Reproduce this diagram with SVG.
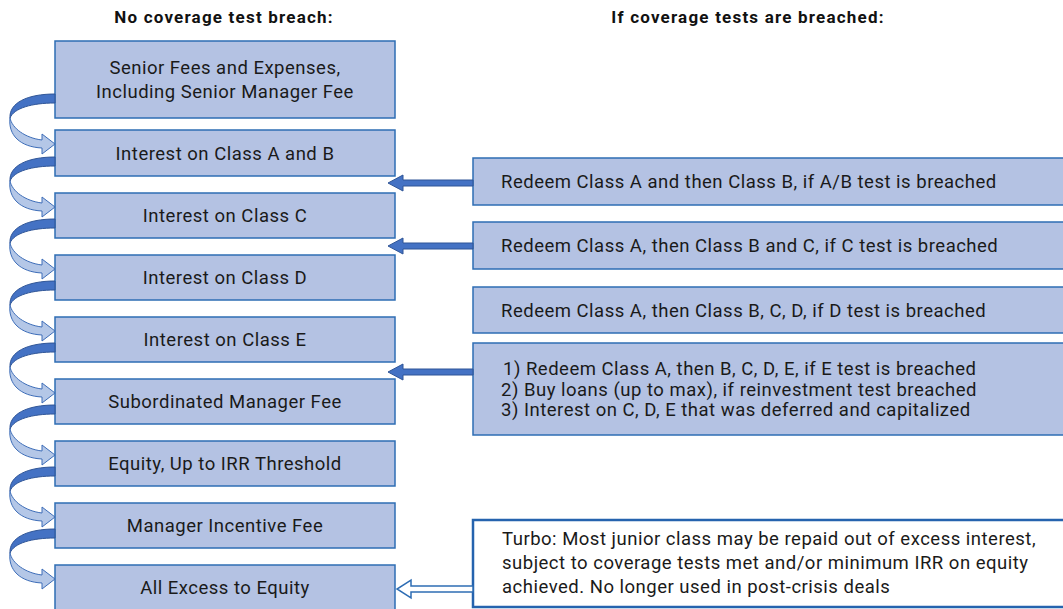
<svg xmlns="http://www.w3.org/2000/svg" width="1063" height="609" viewBox="0 0 1063 609">
<style>
.box{fill:#B4C2E3;stroke:#2E6DB4;stroke-width:1.5}
.turbo{fill:#fff;stroke:#2563AE;stroke-width:2.5}
.t{font-family:Roboto,"Liberation Sans",sans-serif;font-size:18.5px;letter-spacing:0.5px;fill:#1a1a1a}
.c{text-anchor:middle}
.h{font-family:Roboto,"Liberation Sans",sans-serif;font-size:17px;letter-spacing:1.2px;font-weight:bold;fill:#111;text-anchor:middle}
.dk{fill:#4472C4;stroke:#2F5597;stroke-width:1}
.lt{fill:#B4C7E7;stroke:#3D6DB8;stroke-width:1}
.sol{fill:#4472C4;stroke:#2F5597;stroke-width:1}
.hol{fill:#fff;stroke:#2E6DB4;stroke-width:1.5}
</style>
<defs>
<g id="curl">
<path class="dk" d="M55,-36 C27,-36 9,-27 10,-12 C14,-22 32,-27 55,-27 Z"/>
<path class="lt" d="M10,-12 C12,-2 25,8 42,10 L42,4 L55,14 L42,24 L42,18 C20,17 8,5 10,-12 Z"/>
</g>
</defs>
<text class="h" x="224" y="23">No coverage test breach:</text>
<text class="h" x="748" y="23">If coverage tests are breached:</text>

<g id="n1"><rect class="box" x="55" y="41" width="340" height="77"/><text class="t c" x="225" y="74">Senior Fees and Expenses,</text><text class="t c" x="225" y="98">Including Senior Manager Fee</text></g>
<g id="n2"><rect class="box" x="55" y="130" width="340" height="46"/><text class="t c" x="225" y="160">Interest on Class A and B</text></g>
<g id="n3"><rect class="box" x="55" y="193" width="340" height="45"/><text class="t c" x="225" y="222">Interest on Class C</text></g>
<g id="n4"><rect class="box" x="55" y="255" width="340" height="45"/><text class="t c" x="225" y="284">Interest on Class D</text></g>
<g id="n5"><rect class="box" x="55" y="317" width="340" height="45"/><text class="t c" x="225" y="346">Interest on Class E</text></g>
<g id="n6"><rect class="box" x="55" y="379" width="340" height="45"/><text class="t c" x="225" y="408">Subordinated Manager Fee</text></g>
<g id="n7"><rect class="box" x="55" y="441" width="340" height="45"/><text class="t c" x="225" y="470">Equity, Up to IRR Threshold</text></g>
<g id="n8"><rect class="box" x="55" y="503" width="340" height="45"/><text class="t c" x="225" y="532">Manager Incentive Fee</text></g>
<g id="n9"><rect class="box" x="55" y="565" width="340" height="46"/><text class="t c" x="225" y="594">All Excess to Equity</text></g>

<g id="r1"><rect class="box" x="473" y="158" width="592" height="47"/><text class="t" x="501" y="188">Redeem Class A and then Class B, if A/B test is breached</text></g>
<g id="r2"><rect class="box" x="473" y="222" width="592" height="47"/><text class="t" x="501" y="252">Redeem Class A, then Class B and C, if C test is breached</text></g>
<g id="r3"><rect class="box" x="473" y="287" width="592" height="46"/><text class="t" x="501" y="317">Redeem Class A, then Class B, C, D, if D test is breached</text></g>
<g id="r4"><rect class="box" x="473" y="343" width="592" height="92"/><text class="t" x="503" y="375">1)  Redeem Class A, then B, C, D, E, if E test is breached</text><text class="t" x="501" y="396">2) Buy loans (up to max), if reinvestment test breached</text><text class="t" x="501" y="416">3) Interest on C, D, E that was deferred and capitalized</text></g>
<g id="turbo"><rect class="turbo" x="473" y="520" width="592" height="87"/><text class="t" x="502" y="545">Turbo: Most junior class may be repaid out of excess interest,</text><text class="t" x="502" y="569">subject to coverage tests met and/or minimum IRR on equity</text><text class="t" x="502" y="593">achieved. No longer used in post-crisis deals</text></g>

<g id="connectors">
<use href="#curl" transform="translate(0,130)"/>
<use href="#curl" transform="translate(0,193)"/>
<use href="#curl" transform="translate(0,255)"/>
<use href="#curl" transform="translate(0,317)"/>
<use href="#curl" transform="translate(0,379)"/>
<use href="#curl" transform="translate(0,441)"/>
<use href="#curl" transform="translate(0,503)"/>
<use href="#curl" transform="translate(0,565)"/>
<path class="sol" d="M473,180 L403,180 L403,175 L388,183 L403,191 L403,186 L473,186 Z"/>
<path class="sol" d="M473,243 L403,243 L403,238 L388,246 L403,254 L403,249 L473,249 Z"/>
<path class="sol" d="M473,369 L403,369 L403,364 L388,372 L403,380 L403,375 L473,375 Z"/>
<path class="hol" d="M473,586 L411,586 L411,580 L397,589 L411,598 L411,592 L473,592 Z"/>
</g>
</svg>
